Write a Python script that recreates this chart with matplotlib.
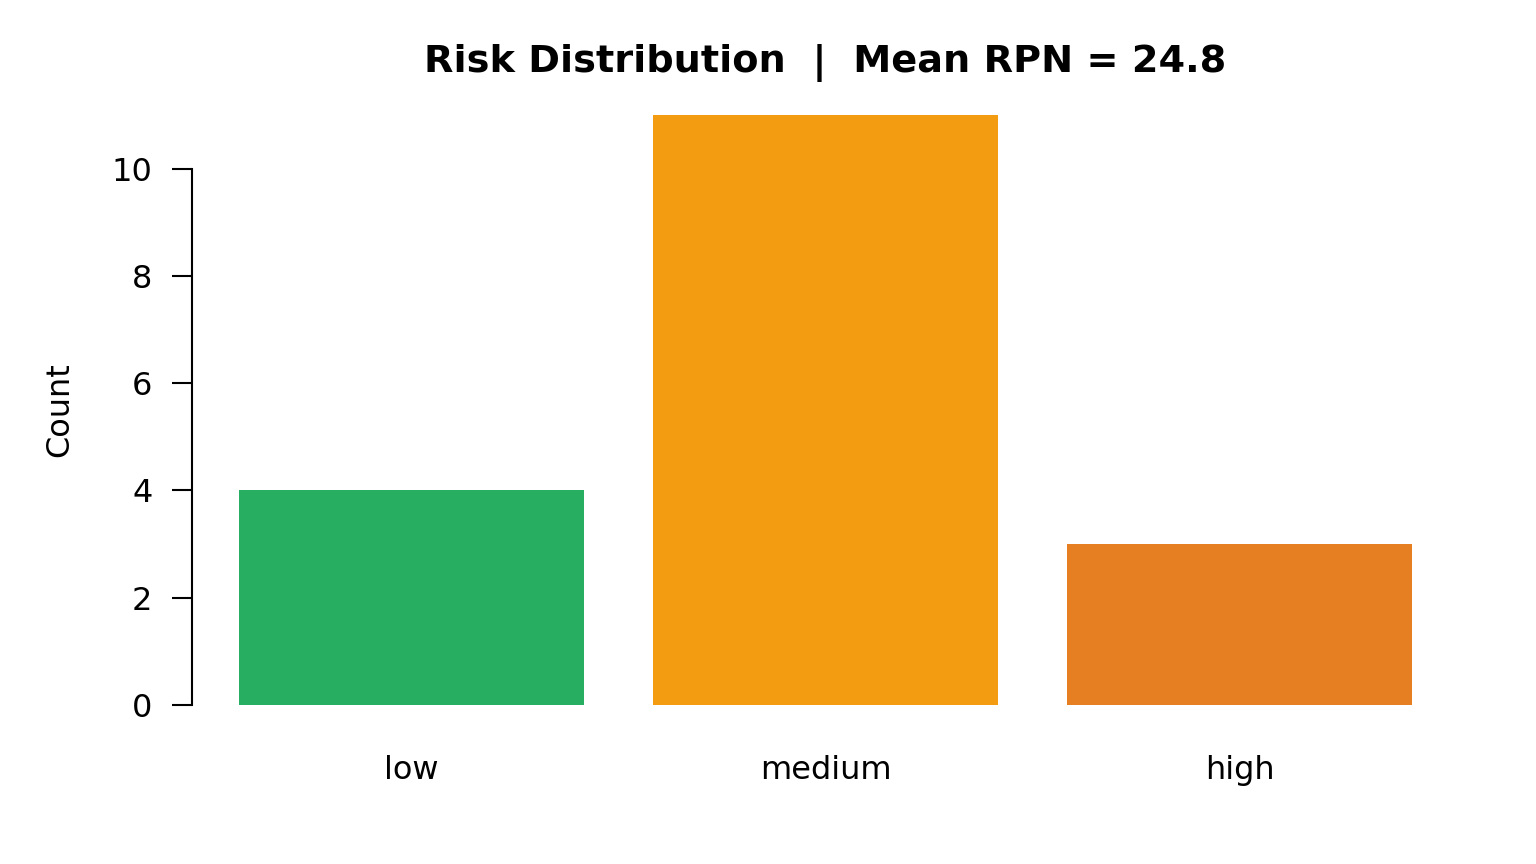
import matplotlib
matplotlib.use('Agg')
import matplotlib.pyplot as plt

# Data
categories = ['low', 'medium', 'high']
counts = [4, 11, 3]
colors = ['#27AE60', '#F39C12', '#E67E22']
mean_rpn = 24.8

positions = [0, 1.2, 2.4]

fig = plt.figure(figsize=(15.36, 8.64), dpi=100)
ax = fig.add_axes([192 / 1536, (864 - 705) / 864, (1459 - 192) / 1536, (705 - 115) / 864])

ax.bar(positions, counts, width=1.0, color=colors, edgecolor='none')

ax.set_xlim(-0.636, 3.036)
ax.set_ylim(0, 11)

# R-style axes: only left spine from 0 to 10
for s in ['top', 'right', 'bottom']:
    ax.spines[s].set_visible(False)
ax.spines['left'].set_bounds(0, 10)
ax.spines['left'].set_linewidth(1.5)

ax.set_yticks([0, 2, 4, 6, 8, 10])
ax.tick_params(axis='y', length=14.4, width=1.5, pad=14, labelsize=23)
ax.set_xticks(positions)
ax.set_xticklabels(categories)
ax.tick_params(axis='x', length=0, pad=36, labelsize=23)

ax.set_ylabel('Count', fontsize=23, labelpad=26)

fig.text(825 / 1536, 1 - 63 / 864, f'Risk Distribution  |  Mean RPN = {mean_rpn}',
         ha='center', va='center', fontsize=27.5, fontweight='bold')

fig.savefig('out.png', dpi=100)
